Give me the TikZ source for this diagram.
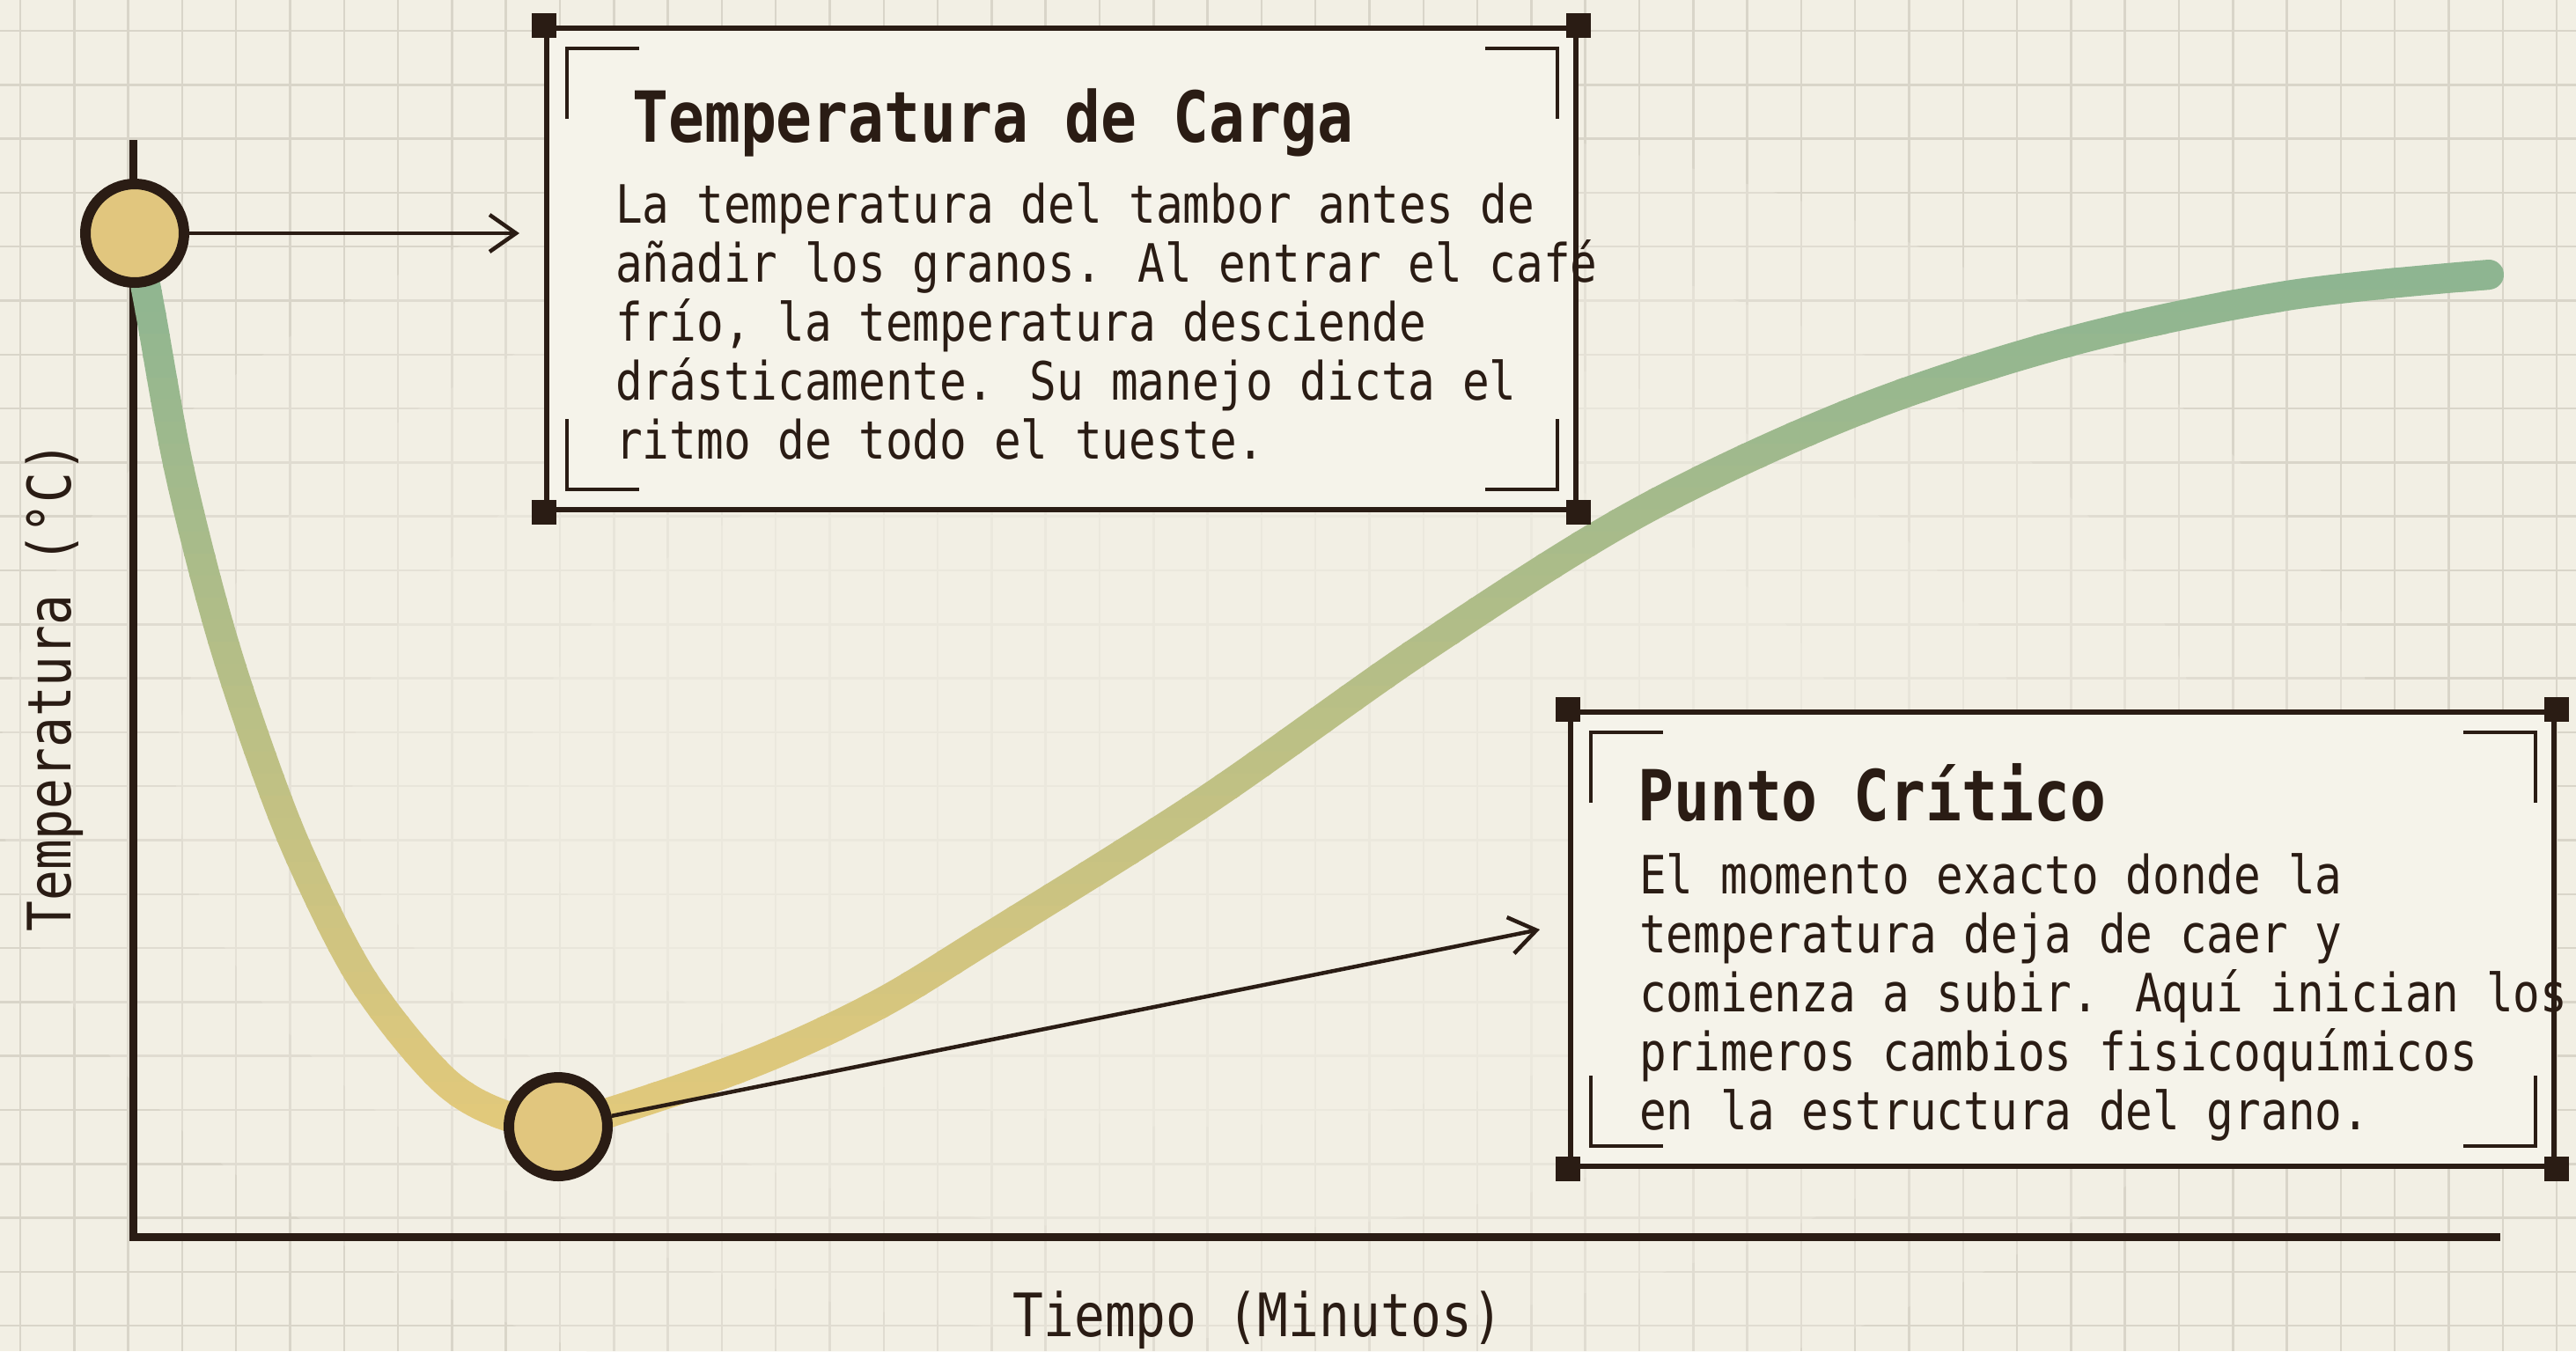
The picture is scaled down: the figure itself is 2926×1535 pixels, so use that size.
\documentclass[tikz,border=0pt]{standalone}
\usepackage{fontspec}
\newfontfamily\plotfont{DejaVu Sans Mono}[FakeStretch=0.85]
\usetikzlibrary{arrows.meta}
\definecolor{paper}{HTML}{F2EFE4}
\definecolor{gridgray}{HTML}{D9D5C9}
\definecolor{ink}{HTML}{2A1C14}
\definecolor{beangold}{HTML}{E3C97B}
\definecolor{sage}{HTML}{8EB591}
\definecolor{dotfill}{HTML}{E1C67E}
\definecolor{cardfill}{HTML}{F5F3EA}
\tikzset{
	roastdot/.style={circle, draw=ink, line width=12, fill=dotfill, minimum size=112, inner sep=0},
	pointer/.style={draw=ink, line width=4.5, -{Straight Barb[length=30pt, width=42pt]}},
	card/.style={draw=ink, line width=6, fill=cardfill, inner sep=0, anchor=north west},
	bracket/.style={draw=ink, line width=4},
	cardtitle/.style={anchor=base west, inner sep=0, text=ink, font=\plotfont\bfseries\fontsize{80}{90}\selectfont},
	cardtext/.style={anchor=base west, inner sep=0, text=ink, align=left, font=\plotfont\fontsize{60}{67}\selectfont},
	axislabel/.style={anchor=base, inner sep=0, text=ink, font=\plotfont\fontsize{68}{76}\selectfont},
}
\begin{document}
\begin{tikzpicture}[x=1pt, y=-1pt]
	\useasboundingbox (0,0) rectangle (2926,1535);
	\fill[paper] (0,0) rectangle (2926,1535);
	\foreach \gx in {0, ..., 47}
		\draw[gridgray, line width=2.5] ({23+61.3*\gx},0) -- ({23+61.3*\gx},1535);
	\foreach \gy in {0, ..., 24}
		\draw[gridgray, line width=2.5] (0,{35+61.3*\gy}) -- (2926,{35+61.3*\gy});
	\foreach \rx/\ry in {1350/760, 1150/640, 950/520, 750/400}
		\fill[paper, opacity=0.3] (1350,880) ellipse [x radius=\rx, y radius=\ry];

	\coordinate (ytop) at (151,159);
	\coordinate (origin) at (151,1405);
	\coordinate (xend) at (2840,1405);
	\draw[ink, line width=9] (ytop) -- (origin) -- (xend);

	\foreach \band in {0, ..., 44} {
		\pgfmathtruncatemacro\gold{min(100,max(0,(230+25*\band-300)/9.7))}
		\begin{scope}
			\clip (0,{229+25*\band}) rectangle (2926,{256+25*\band});
			\draw[beangold!\gold!sage, line width=34, line cap=round]
				plot[smooth, tension=0.55] coordinates {(155,270) (171,355) (203,531) (247,706) (292,846) (341,973) (412,1113) (502,1225) (573,1267) (640,1276) (735,1250) (873,1200) (1000,1140) (1123,1065) (1369,910) (1614,738) (1860,583) (2106,468) (2351,388) (2597,336) (2827,312)};
		\end{scope}
	}

	\node[roastdot] (charge) at (153,265) {};
	\node[roastdot] (turning) at (634,1280) {};
	\coordinate (chargetip) at (590,265);
	\coordinate (turningtip) at (1749,1056);
	\draw[pointer] (charge) -- (chargetip);
	\draw[pointer] (turning) -- (turningtip);

	\node[card, minimum width=1169, minimum height=547] (chargecard) at (618,29) {};
	\node[card, minimum width=1117, minimum height=516] (turncard) at (1781,806) {};
	\foreach \card in {chargecard, turncard} {
		\draw[bracket] (\card.north west) ++(26,106) -- ++(0,-80) -- ++(82,0);
		\draw[bracket] (\card.north east) ++(-24,106) -- ++(0,-80) -- ++(-82,0);
		\draw[bracket] (\card.south west) ++(26,-106) -- ++(0,80) -- ++(82,0);
		\draw[bracket] (\card.south east) ++(-24,-106) -- ++(0,80) -- ++(-82,0);
		\foreach \c in {north west, north east, south west, south east}
			\fill[ink] (\card.\c) ++(-14,-14) rectangle ++(28,28);
	}

	\node[cardtitle] (chargetitle) at (718,161) {Temperatura de Carga};
	\node[cardtext] (chargetext) at (699,521) {La temperatura del tambor antes de\\añadir los granos. Al entrar el café\\frío, la temperatura desciende\\drásticamente. Su manejo dicta el\\ritmo de todo el tueste.};
	\node[cardtitle] (turntitle) at (1860,932) {Punto Crítico};
	\node[cardtext] (turntext) at (1862,1283) {El momento exacto donde la\\temperatura deja de caer y\\comienza a subir. Aquí inician los\\primeros cambios fisicoquímicos\\en la estructura del grano.};

	\node[axislabel] (timelabel) at (1429,1518) {Tiempo (Minutos)};
	\node[axislabel, rotate=90] (templabel) at (80,780) {Temperatura (°C)};
\end{tikzpicture}
\end{document}
